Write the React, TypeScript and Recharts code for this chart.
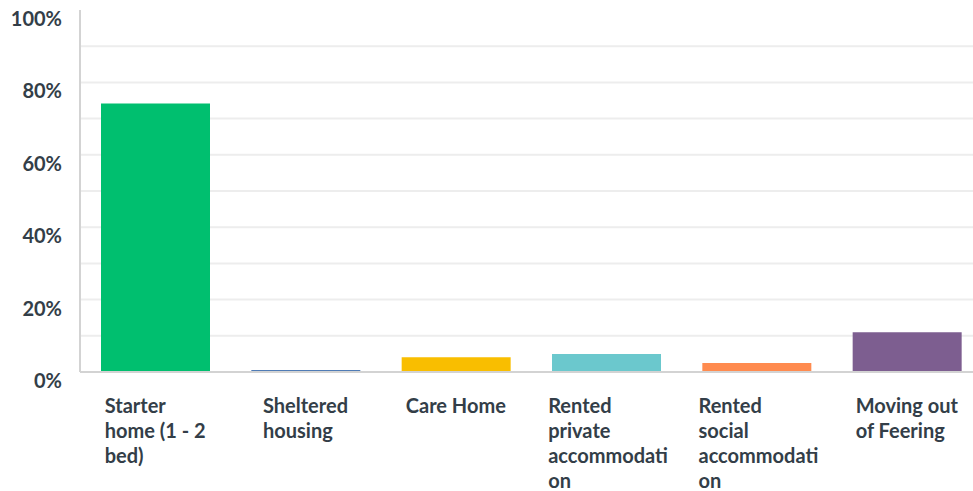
import React from "react";
import { BarChart, Bar, XAxis, YAxis, CartesianGrid, Cell } from "recharts";

const categories = [
  "Starter\nhome (1 - 2\nbed)",
  "Sheltered\nhousing",
  "Care Home",
  "Rented\nprivate\naccommodati\non",
  "Rented\nsocial\naccommodati\non",
  "Moving out\nof Feering",
];
const values = [74.2, 0.55, 4.1, 5.0, 2.5, 11.0];
const colors = ["#00bf6f", "#507cb6", "#f9be00", "#6bc8cd", "#ff8b4f", "#7d5e90"];
const yTicks = [0, 10, 20, 30, 40, 50, 60, 70, 80, 90, 100];
const gridValues = [10, 20, 30, 40, 50, 60, 70, 80, 90];

const FONT = "Lato";
const TEXT = "#333e48";
const SIZE = 20;
const WEIGHT = 700;

const data = categories.map((name, i) => ({ name, value: values[i] }));

let ctx: CanvasRenderingContext2D | null = null;
function textWidth(s: string) {
  if (!ctx) ctx = document.createElement("canvas").getContext("2d");
  if (!ctx) return s.length * 10;
  ctx.font = `${WEIGHT} ${SIZE}px ${FONT}`;
  return ctx.measureText(s).width;
}

function XTick(props: any) {
  const { x, y, payload } = props;
  const lines: string[] = String(payload.value).split("\n");
  const w = Math.min(Math.max(...lines.map(textWidth)), 116);
  const x0 = x - w / 2;
  return (
    <text x={x0} y={y + 41} fill={TEXT} fontFamily={FONT} fontWeight={WEIGHT} fontSize={SIZE} textAnchor="start">
      {lines.map((l, i) => (
        <tspan key={i} x={x0} dy={i === 0 ? 0 : 25}>
          {l}
        </tspan>
      ))}
    </text>
  );
}

function YTick(props: any) {
  const { y, payload } = props;
  if (payload.value % 20 !== 0) return <g />;
  return (
    <text x={62} y={y + 16} fill={TEXT} fontFamily={FONT} fontWeight={WEIGHT} fontSize={SIZE} textAnchor="end">
      {payload.value}%
    </text>
  );
}

export default function App() {
  return (
    <div style={{ position: "absolute", left: 0, top: 0, width: 973, height: 491, overflow: "hidden", background: "#fff" }}>
      <BarChart width={990} height={491} data={data} margin={{ top: 10, right: 8, left: 0, bottom: 0 }}>
        <CartesianGrid vertical={false} stroke="#ededed" strokeWidth={2} horizontalValues={gridValues} />
        <XAxis
          dataKey="name"
          height={119}
          interval={0}
          tickLine={false}
          tickSize={0}
          tickMargin={0}
          axisLine={{ stroke: "#d3d3d3", strokeWidth: 2 }}
          tick={<XTick />}
        />
        <YAxis
          width={80}
          domain={[0, 100]}
          ticks={yTicks}
          interval={0}
          tickLine={false}
          axisLine={{ stroke: "#d3d3d3", strokeWidth: 2 }}
          tick={<YTick />}
        />
        <Bar dataKey="value" barSize={109} isAnimationActive={false}>
          {data.map((d, i) => (
            <Cell key={d.name} fill={colors[i]} />
          ))}
        </Bar>
      </BarChart>
    </div>
  );
}
